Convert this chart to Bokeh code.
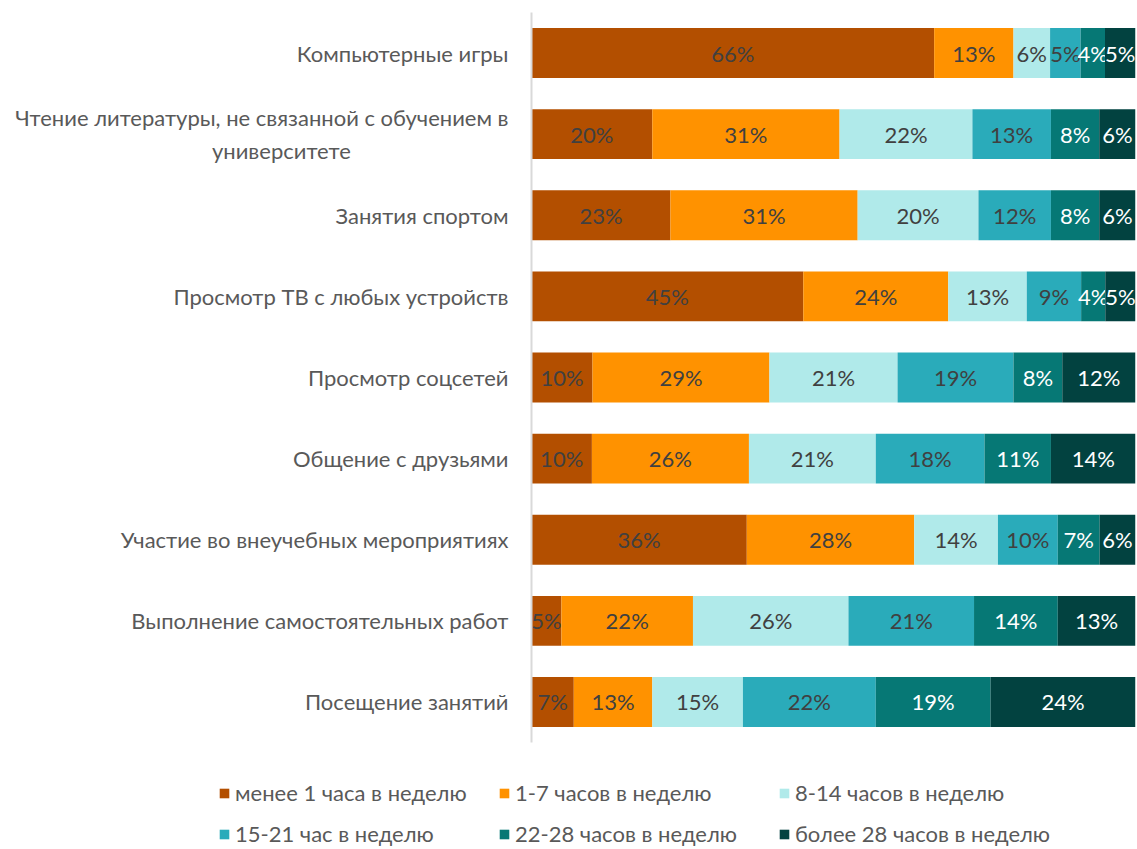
from bokeh.plotting import figure
from bokeh.models import ColumnDataSource, FactorRange, Range1d, Legend, LegendItem
from bokeh.core.properties import value
from bokeh.embed import file_html
from bokeh.resources import INLINE

categories = [
    "Компьютерные игры",
    "Чтение литературы, не связанной с обучением в\nуниверситете" + "\u00a0" * 28,
    "Занятия спортом",
    "Просмотр ТВ с любых устройств",
    "Просмотр соцсетей",
    "Общение с друзьями",
    "Участие во внеучебных мероприятиях",
    "Выполнение самостоятельных работ",
    "Посещение занятий",
]
series_names = [
    "менее 1 часа в неделю",
    "1-7 часов в неделю",
    "8-14 часов в неделю",
    "15-21 час в неделю",
    "22-28 часов в неделю",
    "более 28 часов в неделю",
]
less_1 = [66, 20, 23, 45, 10, 10, 36, 5, 7]
h1_7 = [13, 31, 31, 24, 29, 26, 28, 22, 13]
h8_14 = [6, 22, 20, 13, 21, 21, 14, 26, 15]
h15_21 = [5, 13, 12, 9, 19, 18, 10, 21, 22]
h22_28 = [4, 8, 8, 4, 8, 11, 7, 14, 19]
more_28 = [5, 6, 6, 5, 12, 14, 6, 13, 24]

series = [less_1, h1_7, h8_14, h15_21, h22_28, more_28]
colors = ["#B34F00", "#FF9200", "#B0EAEA", "#2AABBA", "#067875", "#024240"]
text_colors = ["#404040", "#404040", "#404040", "#404040", "#FFFFFF", "#FFFFFF"]

FONT = "Lato"
FS = "22px"

p = figure(
    width=1137, height=765,
    y_range=FactorRange(*reversed(categories), range_padding=0),
    x_range=Range1d(0, 1),
    output_backend="svg", toolbar_location=None,
    min_border_left=531, min_border_right=2, min_border_top=12, min_border_bottom=23,
)

totals = [sum(vals) for vals in zip(*series)]
cum = [0] * len(categories)
for vals, col, tcol in zip(series, colors, text_colors):
    left = [c / t for c, t in zip(cum, totals)]
    cum = [c + v for c, v in zip(cum, vals)]
    right = [c / t for c, t in zip(cum, totals)]
    src = ColumnDataSource(dict(
        y=categories, left=left, right=right,
        mid=[(l + r) / 2 for l, r in zip(left, right)],
        lab=[f"{v}%" for v in vals],
    ))
    p.hbar(y="y", left="left", right="right", height=0.615, source=src,
           fill_color=col, line_color=None)
    p.text(x="mid", y="y", text="lab", source=src, text_align="center",
           text_baseline="middle", text_color=tcol, text_font_size=FS,
           text_font=value(FONT))

p.xaxis.visible = False
p.xgrid.visible = False
p.ygrid.visible = False
p.outline_line_color = None
yax = p.yaxis[0]
yax.axis_line_color = "#D9D9D9"
yax.axis_line_width = 2
yax.major_tick_line_color = None
yax.minor_tick_line_color = None
yax.major_label_text_font = FONT
yax.major_label_text_font_size = FS
yax.major_label_text_color = "#595959"
yax.major_label_standoff = 17

# legend strip
lg = figure(width=1137, height=84, x_range=Range1d(0, 1), y_range=Range1d(0, 1),
            output_backend="svg", toolbar_location=None,
            min_border_left=0, min_border_right=0, min_border_top=0, min_border_bottom=0)
lg.xaxis.visible = False
lg.yaxis.visible = False
lg.xgrid.visible = False
lg.ygrid.visible = False
lg.outline_line_color = None
items = []
for col, name in zip(colors, series_names):
    r = lg.hbar(y=[0.5], left=[0], right=[0], height=0.0, fill_color=col, line_color=None)
    items.append(LegendItem(label=name, renderers=[r]))

common = dict(orientation="horizontal", label_text_font=FONT, label_text_font_size=FS,
              label_text_color="#595959", glyph_width=12, glyph_height=12,
              label_standoff=5, spacing=8, label_width=255, label_height=22,
              border_line_color=None, background_fill_alpha=0, padding=0, margin=0)
lg.add_layout(Legend(items=items[:3], location=(218, 43), **common), "center")
lg.add_layout(Legend(items=items[3:], location=(218, 2), **common), "center")

open("out.html", "w").write(file_html([p, lg], INLINE))
